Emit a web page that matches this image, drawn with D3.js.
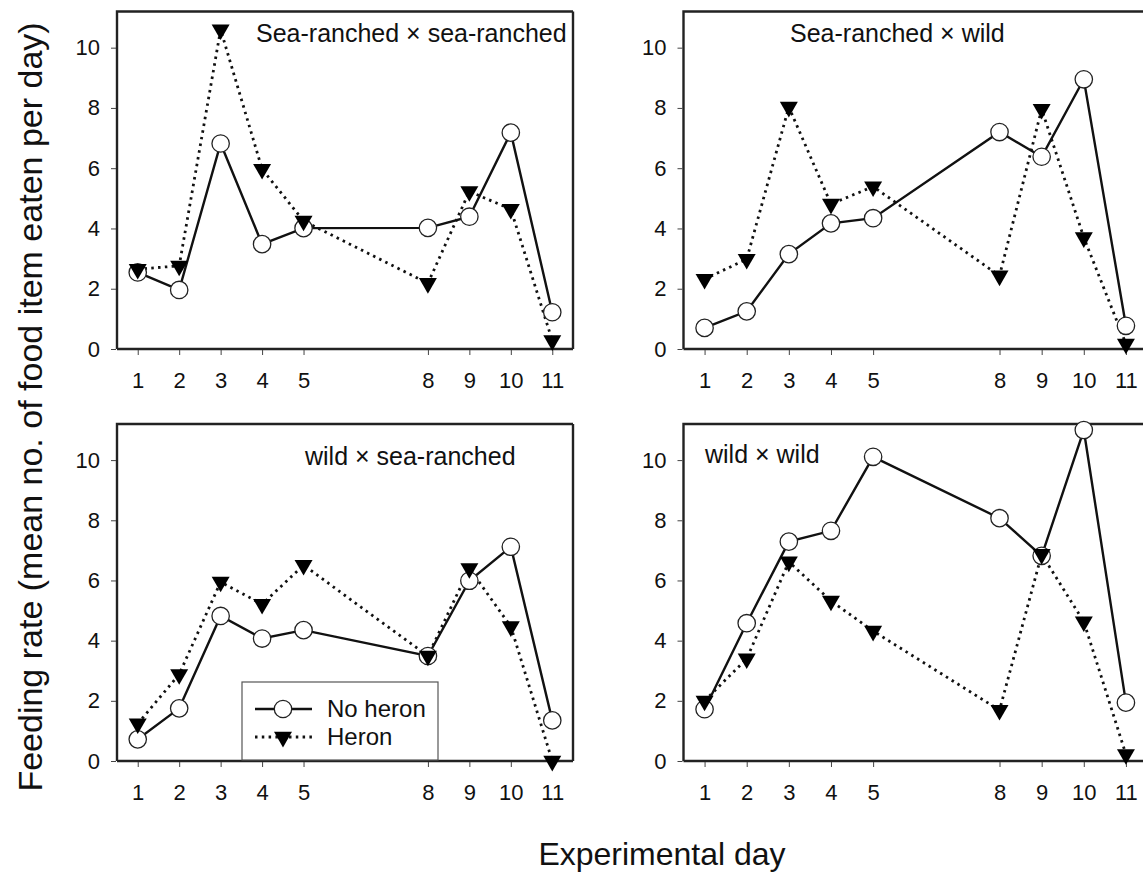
<!DOCTYPE html>
<html>
<head>
<meta charset="utf-8">
<script src="https://cdn.jsdelivr.net/npm/d3@7"></script>
<style>
    body { margin: 0; background: #fff; }
    svg text { font-family: Arial, "Liberation Sans", sans-serif; fill: #111; }
</style>
</head>
<body>
<div id="chart"></div>
<script>
// experimental days and y ticks
const days = [1, 2, 3, 4, 5, 8, 9, 10, 11];
const yTicks = [0, 2, 4, 6, 8, 10];

// sea-ranched x sea-ranched
const srSrNoHeron = [2.54, 1.96, 6.82, 3.48, 4.01, 4.02, 4.39, 7.18, 1.22];
const srSrHeron = [2.65, 2.76, 10.6, 5.97, 4.25, 2.18, 5.23, 4.64, 0.28];
// sea-ranched x wild
const srWildNoHeron = [0.70, 1.25, 3.15, 4.17, 4.34, 7.20, 6.38, 8.95, 0.77];
const srWildHeron = [2.32, 2.98, 8.03, 4.81, 5.39, 2.43, 7.96, 3.70, 0.17];
// wild x sea-ranched
const wildSrNoHeron = [0.72, 1.75, 4.82, 4.07, 4.35, 3.49, 5.99, 7.12, 1.35];
const wildSrHeron = [1.24, 2.88, 5.95, 5.21, 6.51, 3.49, 6.40, 4.47, 0.0];
// wild x wild
const wildWildNoHeron = [1.72, 4.58, 7.29, 7.65, 10.11, 8.07, 6.82, 11.0, 1.94];
const wildWildHeron = [2.0, 3.40, 6.62, 5.32, 4.32, 1.69, 6.87, 4.63, 0.22];

const panelTitles = ["Sea-ranched \u00d7 sea-ranched", "Sea-ranched \u00d7 wild", "wild \u00d7 sea-ranched", "wild \u00d7 wild"];
const legendLabels = ["No heron", "Heron"];

const width = 1143;
const height = 875;

const svg = d3.select("#chart").append("svg")
    .attr("width", width)
    .attr("height", height);

const triangle = d3.symbol().type(d3.symbolTriangle).size(140);

function createPanel(noHeron, heron, title, box) {
    const x = d3.scaleLinear().domain([0.5, 11.5]).range([box.x0, box.x1]);
    const y = d3.scaleLinear().domain([0, 11.2]).range([box.y0, box.y1]);

    const g = svg.append("g");

    // frame
    g.append("path")
        .attr("d", `M${box.x0},${box.y0} V${box.y1} H${box.frameRight} M${box.x0},${box.y0} H${box.frameRight} M${box.frameRight},${box.y1} V${box.y0}`)
        .attr("fill", "none")
        .attr("stroke", "#222")
        .attr("stroke-width", 2.4);

    const xAxis = g.append("g")
        .attr("transform", `translate(0, ${box.y0 + 1})`)
        .call(d3.axisBottom(x).tickValues(days).tickSize(5).tickPadding(17).tickFormat(d3.format("d")));
    xAxis.select(".domain").remove();
    xAxis.selectAll("text").style("font-size", "22px");
    xAxis.selectAll(".tick line").attr("stroke", "#444");

    const yAxis = g.append("g")
        .attr("transform", `translate(${box.x0 - 1}, 0)`)
        .call(d3.axisLeft(y).tickValues(yTicks).tickSize(5).tickPadding(11));
    yAxis.select(".domain").remove();
    yAxis.selectAll("text").style("font-size", "22px");
    yAxis.selectAll(".tick line").attr("stroke", "#444");

    const line = d3.line()
        .x((d, i) => x(days[i]))
        .y(d => y(d));

    g.append("path")
        .datum(noHeron)
        .attr("d", line)
        .attr("fill", "none")
        .attr("stroke", "#111")
        .attr("stroke-width", 2.4);

    g.append("path")
        .datum(heron)
        .attr("d", line)
        .attr("fill", "none")
        .attr("stroke", "#111")
        .attr("stroke-width", 2.8)
        .attr("stroke-dasharray", "2.5,4.3");

    g.append("g")
        .selectAll("circle")
        .data(noHeron)
        .enter().append("circle")
        .attr("cx", (d, i) => x(days[i]))
        .attr("cy", d => y(d))
        .attr("r", 8.7)
        .attr("fill", "#fff")
        .attr("stroke", "#222")
        .attr("stroke-width", 1.3);

    g.append("g")
        .selectAll("path")
        .data(heron)
        .enter().append("path")
        .attr("d", triangle)
        .attr("transform", (d, i) => `translate(${x(days[i])}, ${y(d)}) rotate(180)`)
        .attr("fill", "#000");

    g.append("text")
        .attr("x", box.titleX)
        .attr("y", box.titleY)
        .style("font-size", "25px")
        .text(title);

    return { x, y };
}

const leftX = [117, 573];
const rightX = [683.5, 1147];
const topY = [349, 11.5];
const bottomY = [761, 424];

createPanel(srSrNoHeron, srSrHeron, panelTitles[0],
    { x0: leftX[0], x1: leftX[1], frameRight: leftX[1], y0: topY[0], y1: topY[1], titleX: 256, titleY: 42 });
createPanel(srWildNoHeron, srWildHeron, panelTitles[1],
    { x0: rightX[0], x1: rightX[1], frameRight: 1155, y0: topY[0], y1: topY[1], titleX: 790, titleY: 42 });
createPanel(wildSrNoHeron, wildSrHeron, panelTitles[2],
    { x0: leftX[0], x1: leftX[1], frameRight: leftX[1], y0: bottomY[0], y1: bottomY[1], titleX: 305, titleY: 465 });
createPanel(wildWildNoHeron, wildWildHeron, panelTitles[3],
    { x0: rightX[0], x1: rightX[1], frameRight: 1155, y0: bottomY[0], y1: bottomY[1], titleX: 705, titleY: 463 });

// legend inside wild x sea-ranched panel
const legend = svg.append("g").attr("transform", "translate(242, 682)");
legend.append("rect")
    .attr("width", 196)
    .attr("height", 78)
    .attr("fill", "#fff")
    .attr("stroke", "#555")
    .attr("stroke-width", 1.2);

const legendItems = legend.selectAll("g.item")
    .data(legendLabels)
    .enter().append("g")
    .attr("class", "item")
    .attr("transform", (d, i) => `translate(0, ${27 + i * 28})`);

legendItems.append("line")
    .attr("x1", 13)
    .attr("x2", 70)
    .attr("stroke", "#111")
    .attr("stroke-width", (d, i) => i === 0 ? 2.4 : 2.8)
    .attr("stroke-dasharray", (d, i) => i === 0 ? null : "2.5,4.3");

legendItems.filter((d, i) => i === 0).append("circle")
    .attr("cx", 41)
    .attr("r", 8.7)
    .attr("fill", "#fff")
    .attr("stroke", "#222")
    .attr("stroke-width", 1.3);

legendItems.filter((d, i) => i === 1).append("path")
    .attr("d", triangle)
    .attr("transform", "translate(41, 0) rotate(180)")
    .attr("fill", "#000");

legendItems.append("text")
    .attr("x", 85)
    .attr("dy", "0.35em")
    .style("font-size", "24px")
    .text(d => d);

// shared axis titles
svg.append("text")
    .attr("transform", "translate(42, 407) rotate(-90)")
    .attr("text-anchor", "middle")
    .style("font-size", "34px")
    .text("Feeding rate (mean no. of food item eaten per day)");

svg.append("text")
    .attr("x", 662)
    .attr("y", 865)
    .attr("text-anchor", "middle")
    .style("font-size", "32px")
    .text("Experimental day");
</script>
</body>
</html>
